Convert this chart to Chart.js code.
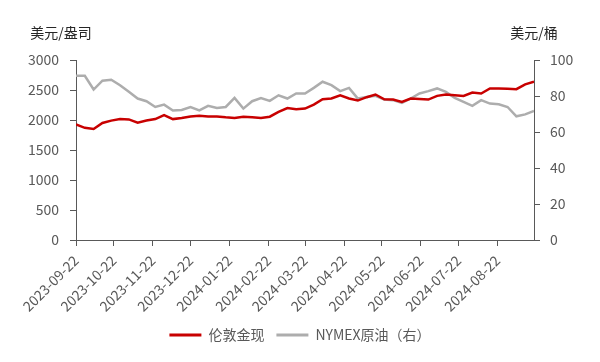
<!DOCTYPE html>
<html>
<head>
<meta charset="utf-8">
<script src="https://cdn.jsdelivr.net/npm/chart.js@4/dist/chart.umd.min.js"></script>
<style>
  html, body { margin: 0; padding: 0; background: #fff; }
  #wrap { width: 600px; height: 362px; }
</style>
</head>
<body>
<div id="wrap"><canvas id="chart" width="600" height="362"></canvas></div>
<script>
// weekly observations
const dates = [
  '2023-09-22', '2023-09-29', '2023-10-06', '2023-10-13', '2023-10-20', '2023-10-27',
  '2023-11-03', '2023-11-10', '2023-11-17', '2023-11-24', '2023-12-01', '2023-12-08',
  '2023-12-15', '2023-12-22', '2023-12-29', '2024-01-05', '2024-01-12', '2024-01-19',
  '2024-01-26', '2024-02-02', '2024-02-09', '2024-02-16', '2024-02-23', '2024-03-01',
  '2024-03-08', '2024-03-15', '2024-03-22', '2024-03-29', '2024-04-05', '2024-04-12',
  '2024-04-19', '2024-04-26', '2024-05-03', '2024-05-10', '2024-05-17', '2024-05-24',
  '2024-05-31', '2024-06-07', '2024-06-14', '2024-06-21', '2024-06-28', '2024-07-05',
  '2024-07-12', '2024-07-19', '2024-07-26', '2024-08-02', '2024-08-09', '2024-08-16',
  '2024-08-23', '2024-08-30', '2024-09-06', '2024-09-13', '2024-09-20'
];

const gold = [
  1925, 1870, 1850, 1950, 1990, 2015, 2010, 1955, 1990, 2015, 2080, 2015,
  2035, 2060, 2070, 2060, 2060, 2045, 2035, 2055, 2045, 2035, 2055, 2134,
  2200, 2180, 2190, 2257, 2346, 2358, 2413, 2358, 2324, 2380, 2425, 2346,
  2341, 2301, 2358, 2350, 2341, 2402, 2425, 2413, 2402, 2459, 2442, 2526,
  2526, 2520, 2514, 2593, 2640
];

const oil = [
  91.2, 91.2, 83.6, 88.5, 89.0, 86.0, 82.3, 78.6, 77.1, 73.9, 75.2, 71.9,
  72.2, 73.9, 72.0, 74.5, 73.4, 73.9, 78.9, 73.0, 77.1, 78.9, 77.3, 80.4,
  78.6, 81.4, 81.4, 84.5, 87.9, 86.0, 82.7, 84.5, 78.6, 79.5, 80.1, 78.0,
  77.7, 76.1, 78.6, 81.4, 82.7, 84.2, 82.3, 78.9, 76.7, 74.5, 77.7, 75.8,
  75.4, 73.9, 68.7, 69.8, 71.7
];

const tickLabels = [
  '2023-09-22', '2023-10-22', '2023-11-22', '2023-12-22', '2024-01-22', '2024-02-22',
  '2024-03-22', '2024-04-22', '2024-05-22', '2024-06-22', '2024-07-22', '2024-08-22'
];

const leftTitle = '美元/盎司';
const rightTitle = '美元/桶';

function dayOffset(d) {
  return Math.round((new Date(d) - new Date(dates[0])) / 86400000);
}

const xDays = dates.map(dayOffset);
const tickDays = tickLabels.map(dayOffset);

Chart.defaults.font.family = "'Noto Sans CJK SC', 'Noto Sans', sans-serif";
Chart.defaults.font.size = 14;
Chart.defaults.color = '#595959';

const axisTitles = {
  id: 'axisTitles',
  afterDraw(chart) {
    const ctx = chart.ctx;
    ctx.save();
    ctx.font = "14px 'Noto Sans CJK SC', sans-serif";
    ctx.fillStyle = '#262626';
    ctx.textAlign = 'center';
    ctx.textBaseline = 'middle';
    ctx.fillText(leftTitle, 61, 33);
    ctx.fillText(rightTitle, 534, 33);
    ctx.restore();
  },
};

const axisLine = { color: '#595959', width: 1 };
const noGrid = { drawOnChartArea: false, drawTicks: true, tickLength: 6, color: '#595959' };

new Chart(document.getElementById('chart'), {
  type: 'line',
  data: {
    datasets: [
      {
        label: '伦敦金现',
        data: xDays.map((x, i) => ({ x: x, y: gold[i] })),
        borderColor: '#C80000',
        backgroundColor: '#C80000',
        borderWidth: 2.5,
        pointRadius: 0,
        yAxisID: 'y',
      },
      {
        label: 'NYMEX原油（右）',
        data: xDays.map((x, i) => ({ x: x, y: oil[i] })),
        borderColor: '#ADADAD',
        backgroundColor: '#ADADAD',
        borderWidth: 2.5,
        pointRadius: 0,
        yAxisID: 'y1',
      },
    ],
  },
  options: {
    responsive: false,
    animation: false,
    layout: { padding: { top: 60, bottom: 10, left: 0, right: 0 } },
    plugins: {
      legend: {
        position: 'bottom',
        labels: {
          boxWidth: 32,
          boxHeight: 3,
          padding: 12,
          color: '#595959',
          font: { size: 14 },
          generateLabels: (chart) =>
            Chart.defaults.plugins.legend.labels.generateLabels(chart).map((l) => ({ ...l, lineWidth: 0 })),
        },
      },
      tooltip: { enabled: false },
    },
    scales: {
      x: {
        type: 'linear',
        min: 0,
        max: 364,
        grid: noGrid,
        border: axisLine,
        afterBuildTicks: (scale) => {
          scale.ticks = tickDays.map((v) => ({ value: v }));
        },
        afterFit: (scale) => {
          scale.height = 76;
        },
        ticks: {
          autoSkip: false,
          maxRotation: 45,
          minRotation: 45,
          padding: 6,
          font: { size: 14 },
          color: '#595959',
          callback: (v) => tickLabels[tickDays.indexOf(v)],
        },
      },
      y: {
        position: 'left',
        min: 0,
        max: 3000,
        grid: noGrid,
        border: axisLine,
        ticks: { stepSize: 500, color: '#595959', padding: 11, callback: (v) => String(v) },
        afterFit: (scale) => {
          scale.width = 76;
        },
      },
      y1: {
        position: 'right',
        min: 0,
        max: 100,
        grid: noGrid,
        border: axisLine,
        ticks: { stepSize: 20, color: '#595959', padding: 10, callback: (v) => String(v) },
        afterFit: (scale) => {
          scale.width = 66;
        },
      },
    },
  },
  plugins: [axisTitles],
});
</script>
</body>
</html>
